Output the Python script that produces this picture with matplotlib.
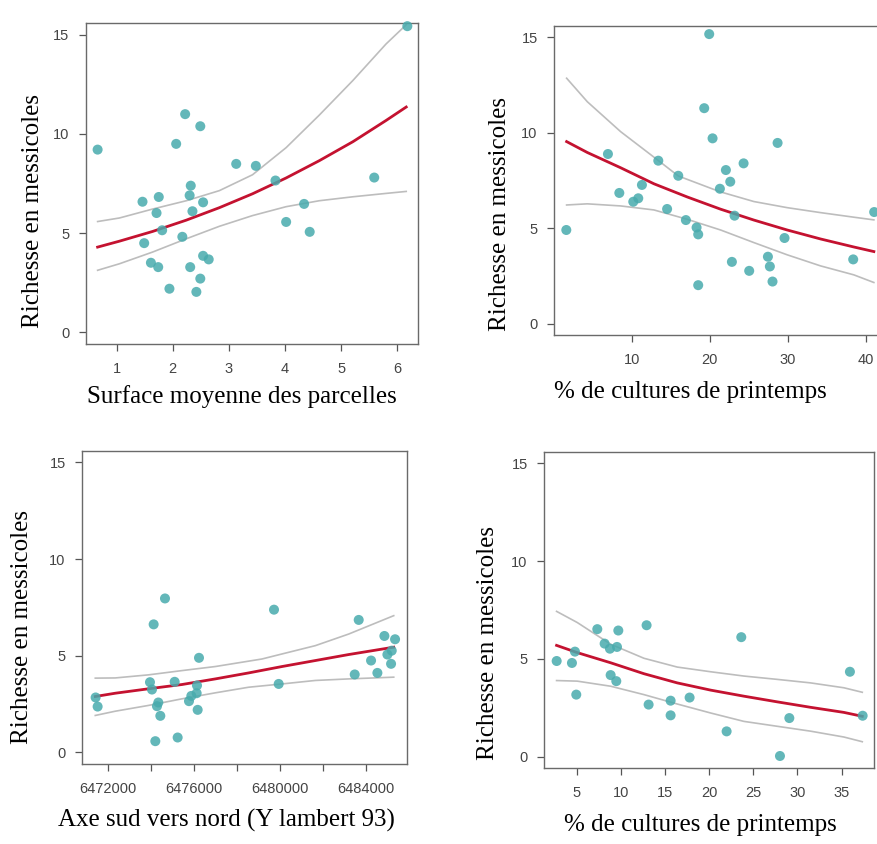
import matplotlib
matplotlib.use("Agg")
import matplotlib.pyplot as plt

# ---------------- data ----------------
ylabel_txt = "Richesse en messicoles"

# Panel 1: surface moyenne des parcelles
p1_x = [0.66, 2.22, 2.49, 2.06, 3.13, 3.48, 3.83, 5.59, 2.32, 2.30, 1.75, 1.46, 2.54, 1.71, 2.35,
        4.34, 4.02, 4.44, 1.81, 2.17, 1.49, 1.61, 1.74, 2.54, 2.64, 2.31, 2.49, 1.94, 2.42, 6.18]
p1_y = [9.21, 11.0, 10.39, 9.5, 8.49, 8.39, 7.65, 7.8, 7.39, 6.90, 6.82, 6.58, 6.55, 6.01, 6.10,
        6.47, 5.56, 5.06, 5.14, 4.81, 4.49, 3.50, 3.28, 3.85, 3.67, 3.28, 2.70, 2.19, 2.03, 15.44]
p1_cx = [0.66, 1.05, 1.64, 2.24, 2.83, 3.42, 4.02, 4.61, 5.21, 5.80, 6.16]
p1_fit = [4.29, 4.59, 5.08, 5.65, 6.28, 6.98, 7.78, 8.65, 9.61, 10.68, 11.36]
p1_upr = [5.58, 5.76, 6.21, 6.63, 7.14, 7.94, 9.31, 10.95, 12.70, 14.54, 15.51]
p1_lwr = [3.12, 3.45, 4.04, 4.71, 5.34, 5.88, 6.33, 6.63, 6.83, 7.00, 7.10]
p1_xticks = [1, 2, 3, 4, 5, 6]

# Panel 2: % de cultures de printemps
p2_x = [1.58, 19.91, 19.27, 20.34, 28.68, 6.92, 13.38, 24.32, 22.05, 15.94, 22.61, 11.28, 21.28, 8.38, 10.81,
        10.17, 14.51, 23.16, 41.07, 16.92, 18.29, 18.50, 29.57, 27.44, 22.82, 38.38, 27.69, 25.04, 28.03, 18.50]
p2_y = [4.90, 15.16, 11.28, 9.70, 9.46, 8.88, 8.53, 8.39, 8.04, 7.74, 7.43, 7.26, 7.06, 6.84, 6.56,
        6.38, 6.00, 5.65, 5.84, 5.42, 5.03, 4.67, 4.48, 3.50, 3.23, 3.36, 2.99, 2.76, 2.20, 2.01]
p2_cx = [1.62, 4.27, 8.55, 12.82, 17.09, 21.37, 25.64, 29.91, 34.19, 38.46, 41.03]
p2_fit = [9.53, 8.96, 8.16, 7.32, 6.63, 5.99, 5.42, 4.90, 4.43, 4.01, 3.77]
p2_lwr = [6.21, 6.27, 6.16, 5.95, 5.46, 4.90, 4.24, 3.60, 3.02, 2.55, 2.15]
p2_ux = [1.62, 4.27, 8.55, 13.38, 15.94, 21.24, 25.64, 29.91, 34.19, 38.46, 41.03]
p2_upr = [12.85, 11.62, 10.05, 8.54, 7.73, 6.91, 6.39, 6.07, 5.81, 5.57, 5.43]
p2_xticks = [10, 20, 30, 40]

# Panel 3: axe sud vers nord (Y lambert 93)
p3_x = [6471410, 6471503, 6473941, 6474034, 6474112, 6474330, 6474267, 6474423, 6474190, 6474640,
        6475090, 6475230, 6475758, 6475867, 6476131, 6476115, 6476162, 6476224, 6479718, 6479936,
        6483477, 6483663, 6484238, 6484533, 6484859, 6484999, 6485201, 6485170, 6485356]
p3_y = [2.84, 2.37, 3.63, 3.25, 6.62, 2.58, 2.39, 1.89, 0.58, 7.96,
        3.65, 0.77, 2.65, 2.92, 3.46, 3.06, 2.20, 4.89, 7.38, 3.54,
        4.03, 6.85, 4.75, 4.11, 6.02, 5.06, 5.26, 4.58, 5.85]
p3_cx = [6471394, 6472326, 6473879, 6475432, 6476985, 6478538, 6480091, 6481644, 6483197, 6485294]
p3_fit = [2.89, 3.06, 3.29, 3.51, 3.80, 4.11, 4.44, 4.75, 5.06, 5.44]
p3_lwr = [1.91, 2.13, 2.43, 2.77, 3.08, 3.37, 3.54, 3.72, 3.80, 3.89]
p3_ux = [6471394, 6472326, 6473879, 6475432, 6476985, 6479159, 6480091, 6481644, 6483197, 6485294]
p3_upr = [3.84, 3.85, 4.01, 4.23, 4.44, 4.83, 5.09, 5.52, 6.12, 7.07]
p3_xticks = [6472000, 6474000, 6476000, 6478000, 6480000, 6482000, 6484000]
p3_xticklabels = ["6472000", "", "6476000", "", "6480000", "", "6484000"]

# Panel 4: % de cultures de printemps
p4_x = [2.74, 4.47, 4.81, 4.96, 7.34, 8.17, 8.77, 9.57, 9.72, 8.85, 9.49,
        12.92, 13.15, 15.64, 15.64, 17.79, 21.98, 23.64, 28.02, 29.08, 35.94, 37.38]
p4_y = [4.89, 4.79, 5.37, 3.17, 6.52, 5.78, 5.52, 5.61, 6.45, 4.17, 3.86,
        6.72, 2.66, 2.86, 2.11, 3.02, 1.29, 6.11, 0.03, 1.97, 4.34, 2.09]
p4_cx = [2.73, 5.07, 8.85, 12.62, 16.39, 20.17, 23.94, 27.71, 31.49, 35.26, 37.34]
p4_fit = [5.69, 5.32, 4.80, 4.24, 3.77, 3.40, 3.09, 2.80, 2.52, 2.26, 2.06]
p4_upr = [7.43, 6.86, 5.75, 5.03, 4.58, 4.34, 4.12, 3.95, 3.77, 3.52, 3.29]
p4_lwr = [3.89, 3.86, 3.60, 3.17, 2.69, 2.23, 1.80, 1.55, 1.30, 1.00, 0.76]
p4_xticks = [5, 10, 15, 20, 25, 30, 35]

yticks = [0, 5, 10, 15]

# ---------------- style ----------------
W, H = 877, 844
fig = plt.figure(figsize=(W / 100, H / 100), dpi=100)
fig.patch.set_facecolor("white")

DOT = "#48abad"
RED = "#c41230"
GREY = "#bdbdbd"
SERIF = ["Liberation Serif", "DejaVu Serif"]
SANS = ["Liberation Sans", "DejaVu Sans"]


def add_ax(l, t, r, b):
    return fig.add_axes([l / W, 1 - b / H, (r - l) / W, (b - t) / H])


def panel(ax, x, y, cx, fit, upr, lwr, xlim, xticks, xlabel, xlab_pos, ylab_pos,
          ux=None, xticklabels=None):
    ax.plot(ux if ux is not None else cx, upr, color=GREY, lw=1.2, zorder=2,
            solid_joinstyle="round")
    ax.plot(cx, lwr, color=GREY, lw=1.2, zorder=2, solid_joinstyle="round")
    ax.plot(cx, fit, color=RED, lw=2.0, zorder=3, solid_joinstyle="round")
    ax.scatter(x, y, s=52, color=DOT, alpha=0.85, edgecolors="none", zorder=4, clip_on=False)
    ax.set_xlim(*xlim)
    ax.set_ylim(-0.6, 15.6)
    ax.set_xticks(xticks)
    if xticklabels is not None:
        ax.set_xticklabels(xticklabels)
    ax.set_yticks(yticks)
    for s in ax.spines.values():
        s.set_color("#6a6a6a")
        s.set_linewidth(1.0)
    ax.tick_params(axis="both", direction="out", length=5, width=0.9, color="#555555",
                   labelcolor="#444444", labelsize=10.5)
    ax.tick_params(axis="x", pad=8)
    ax.tick_params(axis="y", pad=7)
    for lab in ax.get_xticklabels() + ax.get_yticklabels():
        lab.set_fontfamily(SANS)
    ax.set_xlabel(xlabel, fontsize=18, family=SERIF, va="center")
    ax.set_ylabel(ylabel_txt, fontsize=18, family=SERIF, va="center")
    ax.xaxis.set_label_coords(*xlab_pos)
    ax.yaxis.set_label_coords(*ylab_pos)


ax1 = add_ax(86, 23, 418, 344)
panel(ax1, p1_x, p1_y, p1_cx, p1_fit, p1_upr, p1_lwr, (0.453, 6.37), p1_xticks,
      "Surface moyenne des parcelles", (0.469, -53 / 321), (-53 / 332, 0.415))

ax2 = add_ax(554.3, 25.7, 890, 335)
panel(ax2, p2_x, p2_y, p2_cx, p2_fit, p2_upr, p2_lwr, (0.04, 43.1), p2_xticks,
      "% de cultures de printemps", (0.404, -57 / 309.3), (-54 / 335.7, 0.391),
      ux=p2_ux)

ax3 = add_ax(82.3, 450.7, 406.7, 764)
panel(ax3, p3_x, p3_y, p3_cx, p3_fit, p3_upr, p3_lwr, (6470789, 6485898), p3_xticks,
      "Axe sud vers nord (Y lambert 93)", (0.443, -56 / 313.3), (-60 / 324.4, 0.436),
      ux=p3_ux, xticklabels=p3_xticklabels)

ax4 = add_ax(544.3, 451.7, 874.3, 768.3)
panel(ax4, p4_x, p4_y, p4_cx, p4_fit, p4_upr, p4_lwr, (1.34, 38.7), p4_xticks,
      "% de cultures de printemps", (0.473, -57 / 316.6), (-56 / 330, 0.397))

fig.savefig("out.png", dpi=100, facecolor="white")
